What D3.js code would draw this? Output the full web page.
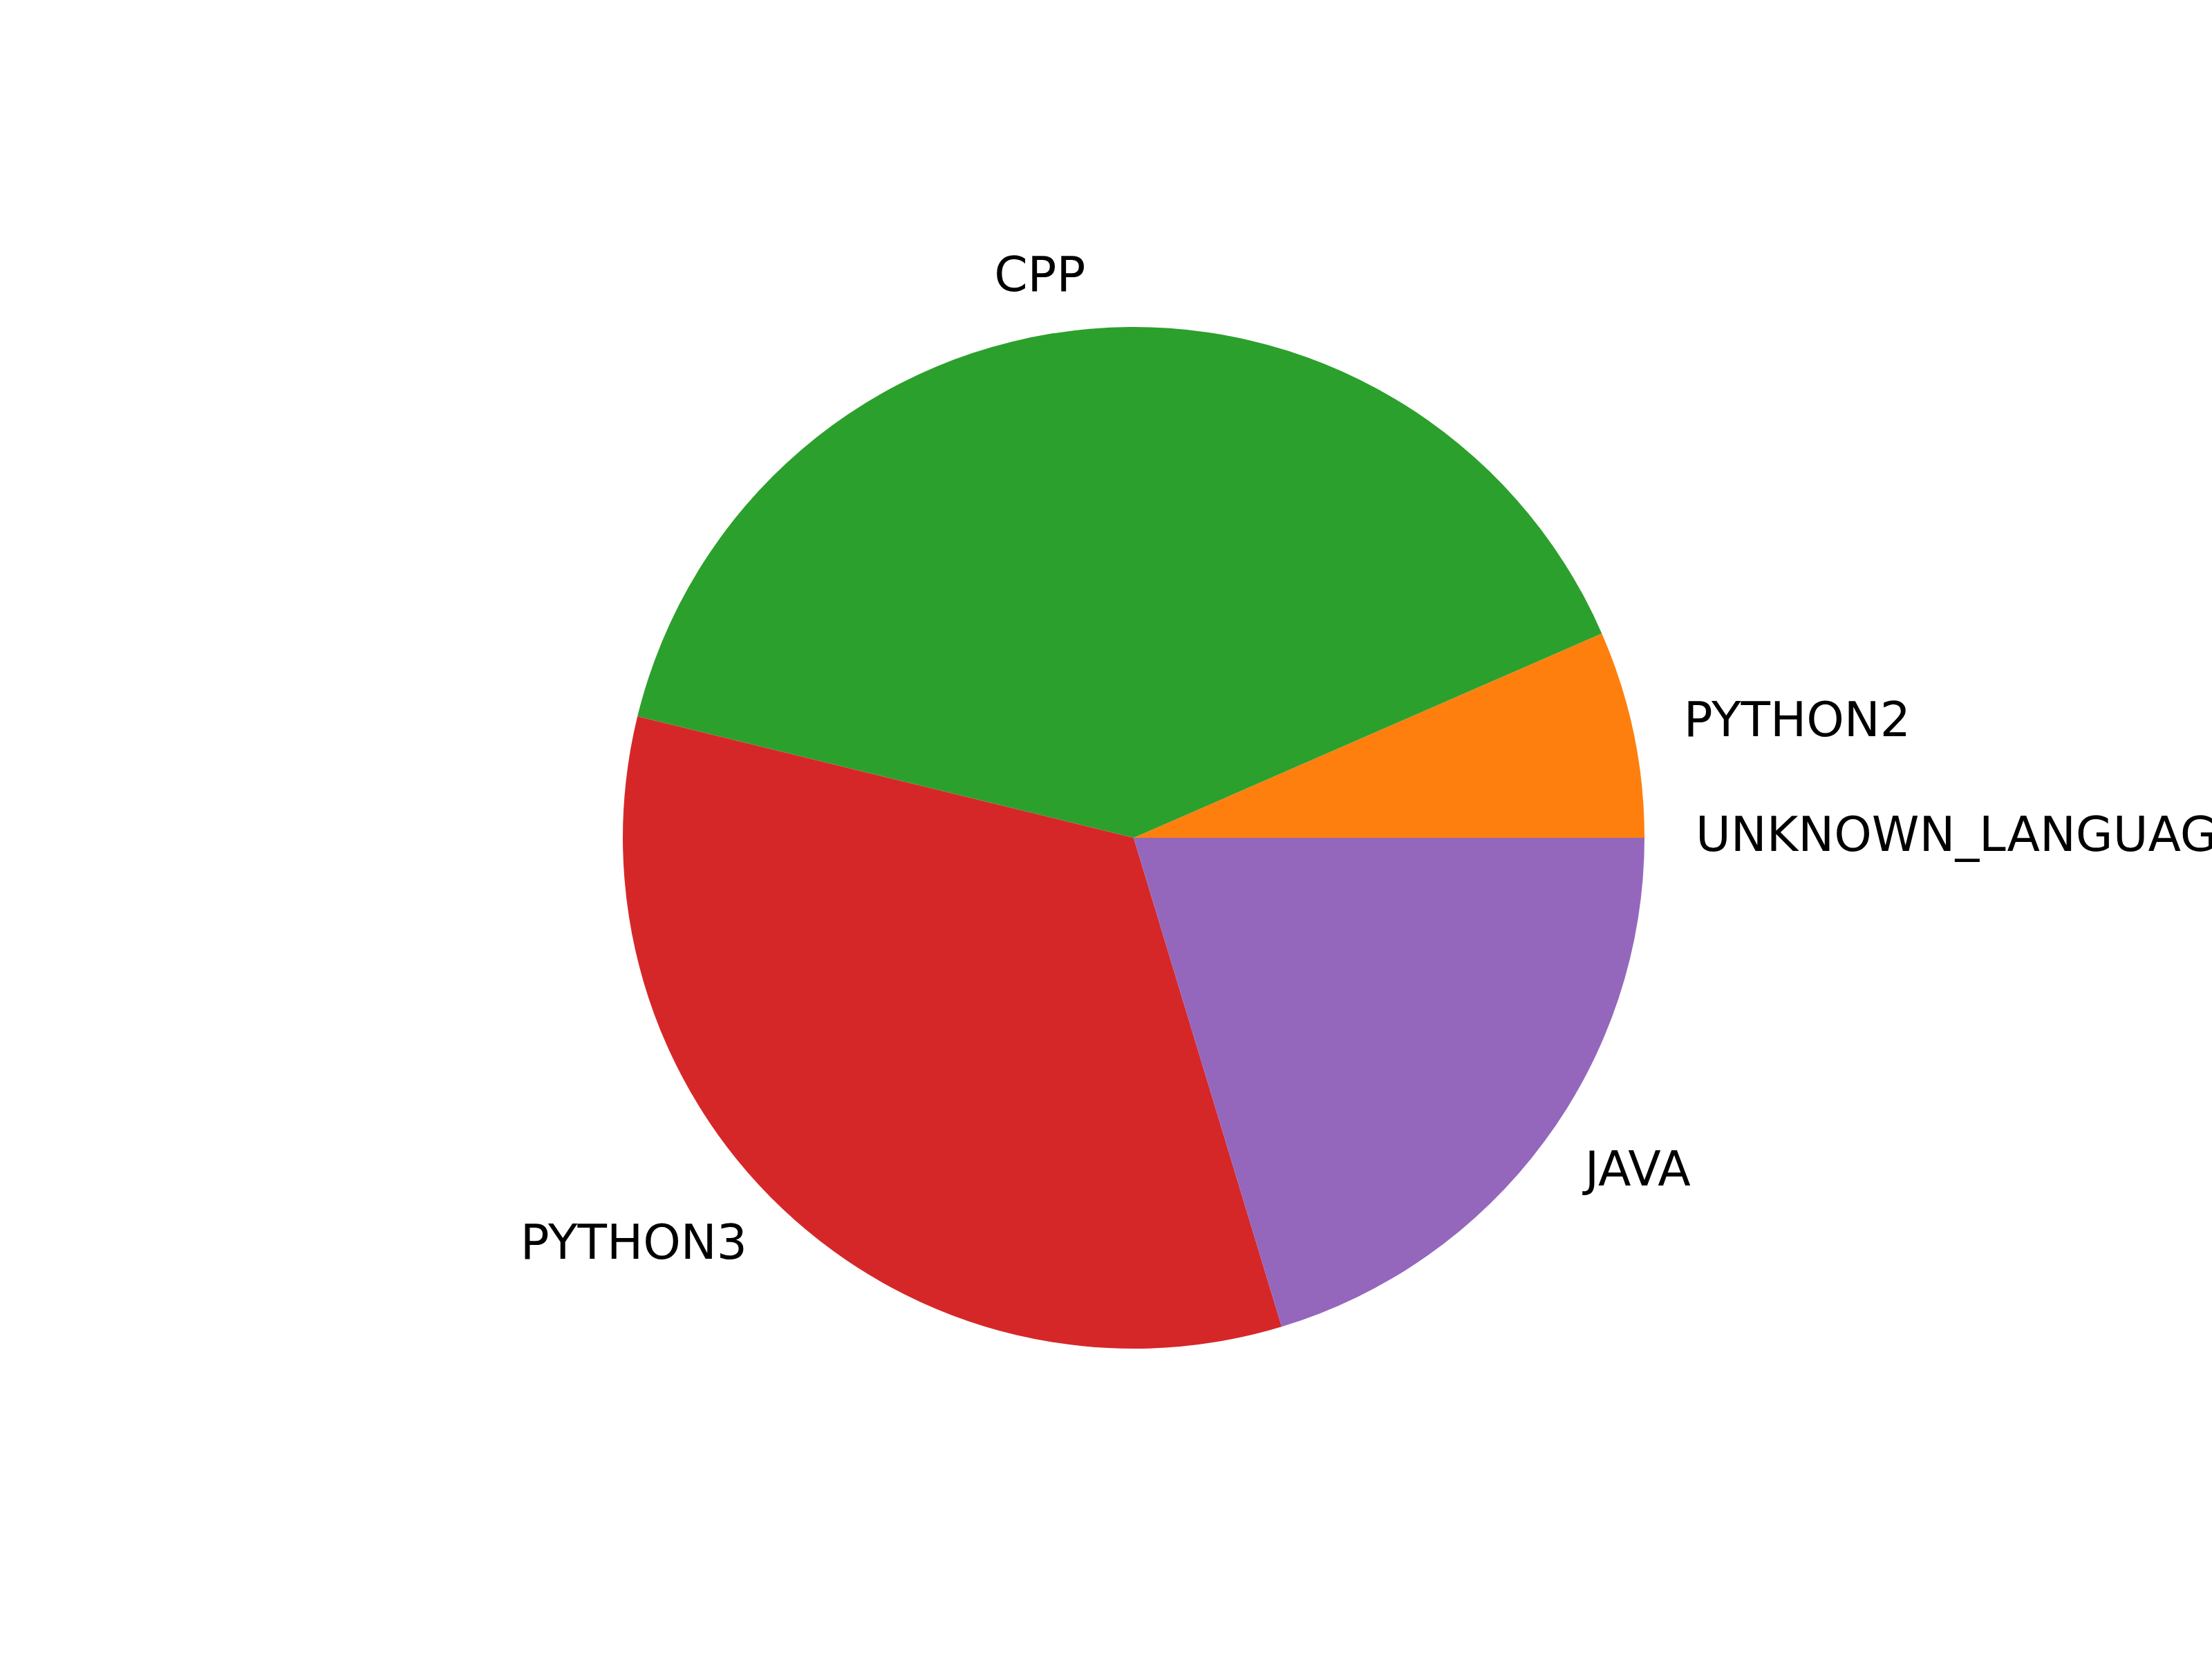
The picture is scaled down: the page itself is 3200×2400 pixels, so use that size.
<!DOCTYPE html>
<html>
<head>
<meta charset="utf-8">
<script src="https://cdn.jsdelivr.net/npm/d3@7"></script>
<style>
  html, body { margin: 0; padding: 0; background: #ffffff; }
  svg { display: block; }
</style>
</head>
<body>
<svg id="chart" width="3200" height="2400"></svg>
<script>
const categories = ["UNKNOWN_LANGUAGE", "PYTHON2", "CPP", "PYTHON3", "JAVA"];
const values = [0, 65.5, 396.3, 335.0, 203.2];
const colors = ["#1f77b4", "#ff7f0e", "#2ca02c", "#d62728", "#9467bd"];

const W = 3200, H = 2400;
const cx = 1640, cy = 1212;
const radius = 739;
const fontSize = 69.44;

const svg = d3.select("#chart");
svg.append("rect").attr("width", W).attr("height", H).attr("fill", "#ffffff");

const data = categories.map((c, i) => ({ name: c, value: values[i], color: colors[i] }));

// matplotlib: start at 3 o'clock, counterclockwise
const pie = d3.pie()
  .sort(null)
  .value(d => d.value)
  .startAngle(Math.PI / 2)
  .endAngle(Math.PI / 2 - 2 * Math.PI);

const arcs = pie(data);
const arc = d3.arc().innerRadius(0).outerRadius(radius);

const g = svg.append("g").attr("transform", `translate(${cx},${cy})`);

g.selectAll("path.slice")
  .data(arcs.filter(a => a.data.value > 0))
  .join("path")
  .attr("class", "slice")
  .attr("d", arc)
  .attr("fill", d => d.data.color)
  .attr("stroke", "none");

const labelR = radius * 1.1;
g.selectAll("text.label")
  .data(arcs)
  .join("text")
  .attr("class", "label")
  .each(function(d) {
    const a = (d.startAngle + d.endAngle) / 2;
    const x = Math.sin(a) * labelR;
    const y = -Math.cos(a) * labelR;
    d3.select(this)
      .attr("x", x)
      .attr("y", y + fontSize * 0.27)
      .attr("text-anchor", x >= 0 ? "start" : "end");
  })
  .attr("font-family", "'DejaVu Sans', sans-serif")
  .attr("font-size", fontSize)
  .attr("fill", "#000000")
  .text(d => d.data.name);
</script>
</body>
</html>
